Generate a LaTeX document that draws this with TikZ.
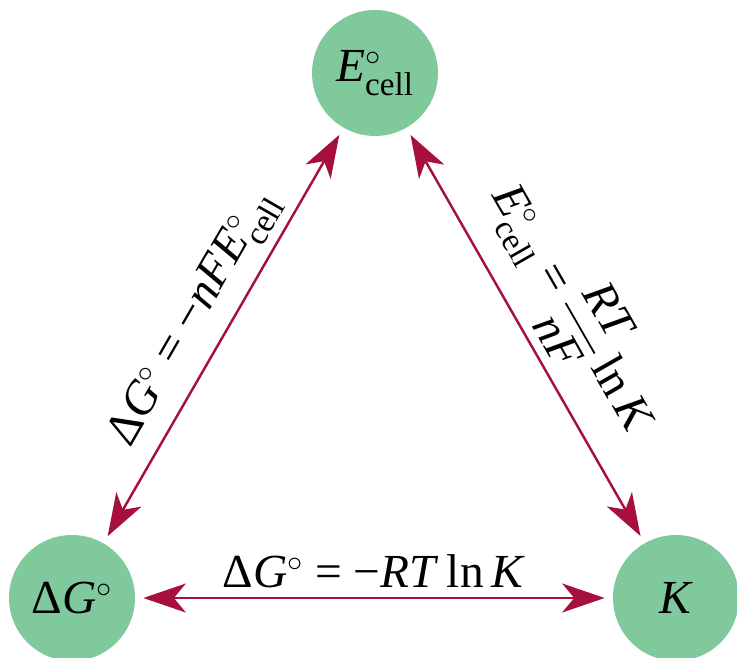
\documentclass[tikz,border=0pt]{standalone}
\usepackage{fontspec}
\setmainfont{Liberation Serif}
\usepackage{amsmath}
\usetikzlibrary{arrows.meta}
\definecolor{ecGreen}{HTML}{7FC99C}
\definecolor{ecRed}{HTML}{A8103C}
\newcommand\Ecell{\textit{E}$^{\circ}_{\text{cell}}$}
\newcommand\dGo{\textup{Δ}\textit{G}$^{\circ}$}
\tikzset{
  % state circles
  statenode/.style={
    circle,
    fill=ecGreen,
    minimum size=2.52cm,
    inner sep=0pt,
    font=\fontsize{27}{31}\selectfont
  },
  % two-way relation arrow
  relflow/.style={
    <->,
    >={Stealth[length=8.5mm, width=5.8mm, inset=2.4mm]},
    line width=1.4pt,
    ecRed,
    shorten >=1.6mm,
    shorten <=1.6mm
  },
  % relation equation
  rellabel/.style={
    sloped,
    above=0.6mm,
    font=\fontsize{27}{31}\selectfont,
    text=black
  }
}
\begin{document}
\begin{tikzpicture}[x=0.02cm, y=-0.02cm]
\useasboundingbox (0,0) rectangle (737,658);

%% === States ===
\node[statenode] (ecell) at (375,73) {\Ecell};
\node[statenode] (dg) at (72,598) {\dGo};
\node[statenode] (k) at (676,598) {\textit{K}};

%% === Relations ===
\draw[relflow] (dg) -- node[rellabel] {\dGo{} = −\textit{nFE}$^{\circ}_{\text{cell}}$} (ecell);
\draw[relflow] (ecell) -- node[rellabel] {\Ecell{} = $\dfrac{\text{\textit{RT}}}{\text{\textit{nF}}}$\,ln\,\textit{K}} (k);
\draw[relflow] (dg) -- node[rellabel] {\dGo{} = −\textit{RT}\,ln\,\textit{K}} (k);

\end{tikzpicture}
\end{document}
